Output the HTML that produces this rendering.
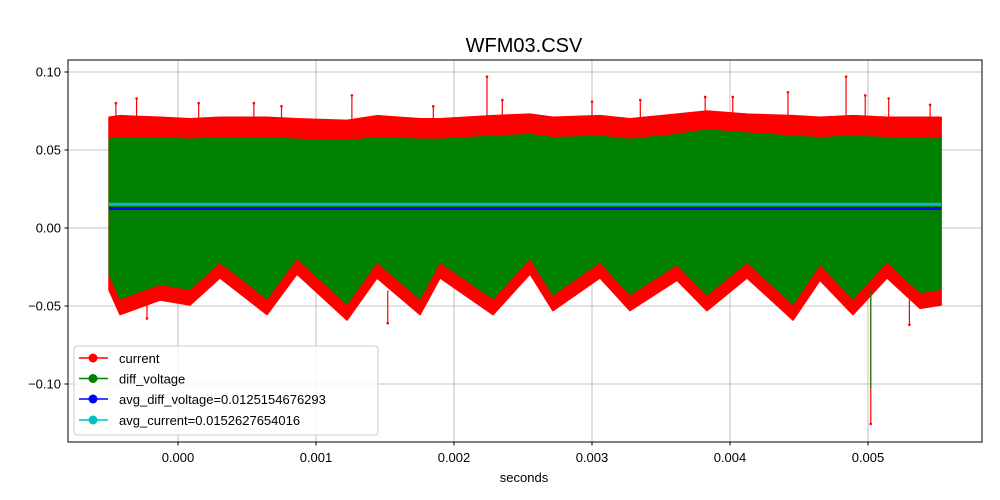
<!DOCTYPE html>
<html><head><meta charset="utf-8"><style>
body{margin:0;background:#fff;}
svg{display:block;font-family:"Liberation Sans","DejaVu Sans",sans-serif;}
</style></head><body>
<svg id="chart" width="1000" height="500" xmlns="http://www.w3.org/2000/svg">
<rect x="0" y="0" width="1000" height="500" fill="#fff"/>
<g id="grid"></g>
<g id="plot"></g>
<rect x="68" y="60" width="914" height="382" fill="none" stroke="#000" stroke-width="1"/>
<g id="axes"></g>
<text x="524" y="52" font-size="20" text-anchor="middle">WFM03.CSV</text>
<text x="524" y="482" font-size="13" text-anchor="middle">seconds</text>
<g>
<rect x="74" y="346" width="304" height="89" rx="3" fill="#fff" fill-opacity="0.8" stroke="#ccc"/>
<g><line x1="79" y1="358" x2="108" y2="358" stroke="#f00" stroke-width="1.5"/><circle cx="93" cy="358" r="4.5" fill="#f00"/><text x="119" y="363" font-size="13">current</text></g>
<g><line x1="79" y1="378.5" x2="108" y2="378.5" stroke="#008000" stroke-width="1.5"/><circle cx="93" cy="378.5" r="4.5" fill="#008000"/><text x="119" y="383.5" font-size="13">diff_voltage</text></g>
<g><line x1="79" y1="399" x2="108" y2="399" stroke="#00f" stroke-width="1.5"/><circle cx="93" cy="399" r="4.5" fill="#00f"/><text x="119" y="404" font-size="13">avg_diff_voltage=0.0125154676293</text></g>
<g><line x1="79" y1="420" x2="108" y2="420" stroke="#00bfbf" stroke-width="1.5"/><circle cx="93" cy="420" r="4.5" fill="#00bfbf"/><text x="119" y="425" font-size="13">avg_current=0.0152627654016</text></g>
</g>
</svg>
<script>
// envelope sample times (ms)
const times = [-0.5,-0.42,-0.13,0.087,0.304,0.645,0.862,1.225,1.442,1.754,1.899,2.283,2.551,2.717,3.058,3.275,3.616,3.833,4.123,4.457,4.652,4.891,5.138,5.377,5.53];
const currentLow = [-0.0397,-0.0555,-0.0462,-0.0494,-0.0320,-0.0555,-0.0295,-0.0590,-0.0320,-0.0555,-0.0320,-0.0555,-0.0295,-0.0530,-0.0320,-0.0530,-0.0335,-0.0530,-0.0320,-0.0590,-0.0335,-0.0555,-0.0320,-0.0515,-0.0494];
const currentHigh = [0.071,0.072,0.071,0.070,0.071,0.071,0.070,0.069,0.072,0.070,0.070,0.072,0.073,0.071,0.072,0.070,0.073,0.075,0.073,0.072,0.071,0.072,0.071,0.071,0.071];
const voltageHigh = [0.057,0.058,0.058,0.057,0.058,0.058,0.057,0.056,0.058,0.057,0.057,0.059,0.060,0.058,0.059,0.057,0.060,0.063,0.061,0.059,0.058,0.059,0.058,0.058,0.058];
const voltageLowOffset = 0.010;
// spikes (ms, value)
const spikeTimes = [-0.45,-0.3,-0.225,0.15,0.55,0.75,1.26,1.52,1.85,2.239,2.35,3.0,3.35,3.82,4.02,4.42,4.841,4.98,5.02,5.15,5.3,5.45];
const spikeValues = [0.080,0.083,-0.058,0.080,0.080,0.078,0.085,-0.061,0.078,0.097,0.082,0.081,0.082,0.084,0.084,0.087,0.097,0.085,-0.1256,0.083,-0.062,0.079];
const avgVoltage = 0.0125154676293;
const avgCurrent = 0.0152627654016;
const xTicks = [0,0.001,0.002,0.003,0.004,0.005];
const xTickLabels = ["0.000","0.001","0.002","0.003","0.004","0.005"];
const yTicks = [0.10,0.05,0.00,-0.05,-0.10];
const yTickLabels = ["0.10","0.05","0.00","−0.05","−0.10"];

const NS="http://www.w3.org/2000/svg";
const X = t => 178 + t*138000;
const Xms = t => X(t/1000);
const Y = v => 228 - v*1560;
function mk(tag, attrs, parent){const e=document.createElementNS(NS,tag);for(const k in attrs)e.setAttribute(k,attrs[k]);parent.appendChild(e);return e;}
const grid=document.getElementById('grid'), plot=document.getElementById('plot'), axes=document.getElementById('axes');

xTicks.forEach((t,i)=>{
  const g=mk('line',{x1:X(t),x2:X(t),y1:60,y2:442,stroke:'#b0b0b0','stroke-width':0.8},grid);
  
  
  const tk=mk('line',{x1:X(t),x2:X(t),y1:442,y2:445.5,stroke:'#000'},axes);
  
  
  const tx=mk('text',{x:X(t),y:462,'font-size':13,'text-anchor':'middle'},axes);
  tx.textContent=xTickLabels[i];
  
  
});
yTicks.forEach((v,i)=>{
  const g=mk('line',{x1:68,x2:982,y1:Y(v),y2:Y(v),stroke:'#b0b0b0','stroke-width':0.8},grid);
  
  
  const tk=mk('line',{x1:64.5,x2:68,y1:Y(v),y2:Y(v),stroke:'#000'},axes);
  
  
  const tx=mk('text',{x:61,y:Y(v)+4.5,'font-size':13,'text-anchor':'end'},axes);
  tx.textContent=yTickLabels[i];
  
  
});

function band(high, low){
  let d='M'+times.map((t,i)=>Xms(t)+','+Y(high[i])).join(' L');
  d+=' L'+times.slice().reverse().map((t,j)=>{const i=times.length-1-j;return Xms(t)+','+Y(low[i]);}).join(' L')+' Z';
  return d;
}
const cur=mk('path',{d:band(currentHigh,currentLow),fill:'#f00',stroke:'#f00','stroke-width':1.5,'stroke-linejoin':'round'},plot);


spikeTimes.forEach((t,i)=>{
  const base = spikeValues[i]>0 ? 0.06 : -0.04;
  const s=mk('line',{x1:Xms(t),x2:Xms(t),y1:Y(base),y2:Y(spikeValues[i]),stroke:'#f00','stroke-width':1.2},plot);
  
  
  const c=mk('circle',{cx:Xms(t),cy:Y(spikeValues[i]),r:1.3,fill:'#f00'},plot);
  
  
});
const vLow=currentLow.map(v=>v+voltageLowOffset);
const vol=mk('path',{d:band(voltageHigh,vLow),fill:'#008000',stroke:'#008000','stroke-width':1,'stroke-linejoin':'round'},plot);


const vs=mk('line',{x1:Xms(5.02),x2:Xms(5.02),y1:Y(-0.04),y2:Y(-0.103),stroke:'#008000','stroke-width':1},plot);


const t0=times[0], t1=times[times.length-1];
const cl=mk('line',{x1:Xms(t0),x2:Xms(t1),y1:Y(avgCurrent),y2:Y(avgCurrent),stroke:'#00bfbf','stroke-width':3},plot);


const bl=mk('line',{x1:Xms(t0),x2:Xms(t1),y1:Y(avgVoltage),y2:Y(avgVoltage),stroke:'#00f','stroke-width':3},plot);


</script>
</body></html>
